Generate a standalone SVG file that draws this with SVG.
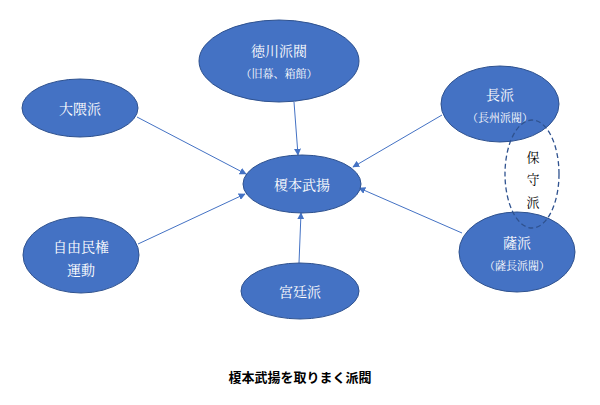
<svg xmlns="http://www.w3.org/2000/svg" width="600" height="405" viewBox="0 0 600 405">
<style>
.n{fill:#4472C4;stroke:#2F528F;stroke-width:1}
.t{fill:#ffffff;font-family:"Noto Serif CJK JP","Noto Sans CJK JP",serif;font-size:14px;text-anchor:middle;dominant-baseline:central}
.s{font-size:11px}
.c{stroke:#4472C4;stroke-width:1;fill:none;marker-end:url(#ah)}
.k{fill:#000000;font-family:"Noto Serif CJK JP","Noto Sans CJK JP",serif;font-size:13px;text-anchor:middle;dominant-baseline:central}
</style>
<defs>
<marker id="ah" viewBox="0 0 10 10" refX="9" refY="5" markerWidth="7" markerHeight="7" markerUnits="userSpaceOnUse" orient="auto">
<path d="M0,0 L10,5 L0,10 z" fill="#4472C4"/>
</marker>
</defs>
<rect width="600" height="405" fill="#ffffff"/>
<g id="connectors">
<line class="c" x1="294" y1="102" x2="298" y2="155"/>
<line class="c" x1="137" y1="117" x2="246" y2="174"/>
<line class="c" x1="138" y1="244" x2="245" y2="194"/>
<line class="c" x1="299" y1="263" x2="301" y2="213"/>
<line class="c" x1="442" y1="115" x2="353" y2="167"/>
<line class="c" x1="462" y1="233" x2="359" y2="188"/>
</g>
<g id="tokugawa">
<ellipse class="n" cx="279" cy="61" rx="80" ry="41"/>
<text class="t" x="279" y="50">徳川派閥</text>
<text class="t s" x="279" y="73">（旧幕、箱館）</text>
</g>
<g id="enomoto">
<ellipse class="n" cx="302" cy="184" rx="59" ry="29"/>
<text class="t" x="302" y="184">榎本武揚</text>
</g>
<g id="chohan">
<ellipse class="n" cx="500" cy="104" rx="59" ry="38"/>
<text class="t" x="500" y="94">長派</text>
<text class="t s" x="500" y="117">（長州派閥）</text>
</g>
<g id="satsuha">
<ellipse class="n" cx="517" cy="252" rx="58" ry="40"/>
<text class="t" x="517" y="242">薩派</text>
<text class="t s" x="517" y="265">（薩長派閥）</text>
</g>
<g id="okuma">
<ellipse class="n" cx="80" cy="108" rx="58" ry="29"/>
<text class="t" x="80" y="108">大隈派</text>
</g>
<g id="jiyuminken">
<ellipse class="n" cx="81" cy="255" rx="58" ry="38"/>
<text class="t" x="81" y="246">自由民権</text>
<text class="t" x="81" y="269">運動</text>
</g>
<g id="kyuteiha">
<ellipse class="n" cx="300" cy="291" rx="59" ry="28"/>
<text class="t" x="300" y="291">宮廷派</text>
</g>
<g id="hoshuha">
<ellipse cx="532" cy="174" rx="27" ry="54" fill="none" stroke="#2F528F" stroke-width="1.3" stroke-dasharray="5,3"/>
<text class="k" x="533" y="156">保</text>
<text class="k" x="533" y="178">守</text>
<text class="k" x="533" y="201">派</text>
</g>
<text x="300" y="376" font-family="'Noto Sans CJK JP',sans-serif" font-size="13" font-weight="bold" text-anchor="middle" dominant-baseline="central" fill="#000000">榎本武揚を取りまく派閥</text>
</svg>
